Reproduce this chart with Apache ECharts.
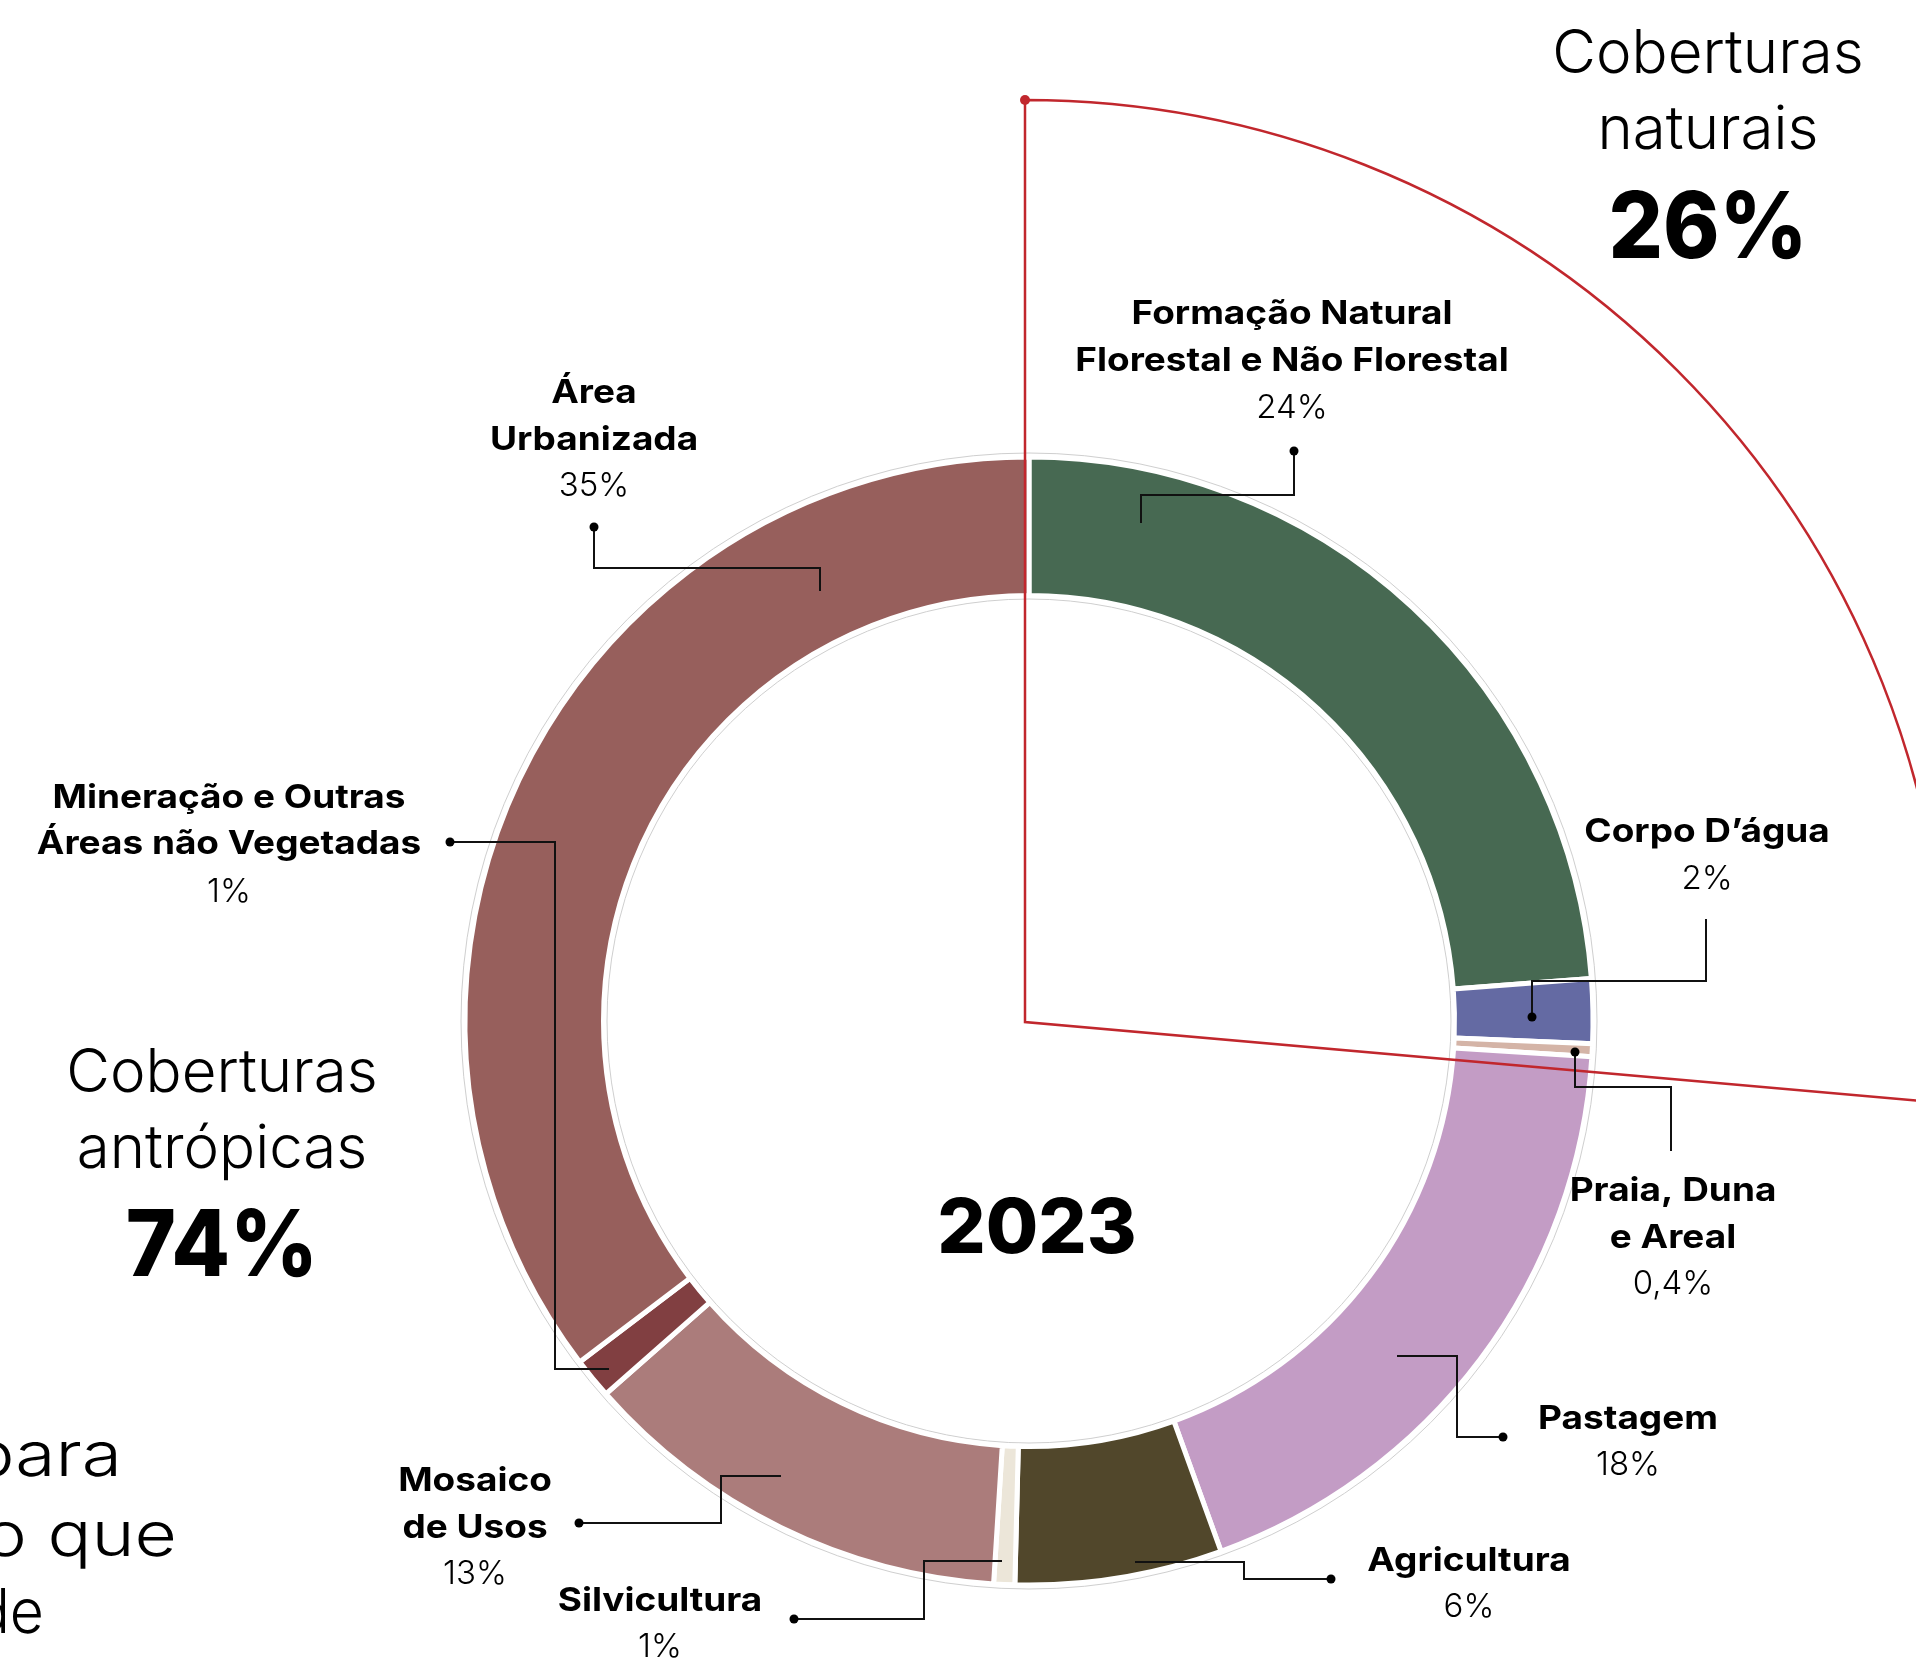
<!DOCTYPE html>
<html>
<head>
<meta charset="utf-8">
<script src="https://cdn.jsdelivr.net/npm/echarts@6/dist/echarts.min.js"></script>
<style>
html,body{margin:0;padding:0;background:#fff;}
#chart{width:1916px;height:1659px;}
</style>
</head>
<body>
<div id="chart"></div>
<script>
// ---------- DATA ----------
const categories = [
  'Formação Natural\nFlorestal e Não Florestal',
  'Corpo D’água',
  'Praia, Duna\ne Areal',
  'Pastagem',
  'Agricultura',
  'Silvicultura',
  'Mosaico\nde Usos',
  'Mineração e Outras\nÁreas não Vegetadas',
  'Área\nUrbanizada'
];
const values = [23.8, 1.84, 0.37, 18.46, 5.93, 0.6, 12.5, 1.17, 35.33];
const pctLabels = ['24%', '2%', '0,4%', '18%', '6%', '1%', '13%', '1%', '35%'];
const groupNames = ['Coberturas\nnaturais', 'Coberturas\nantrópicas'];
const groupShares = [26.4, 73.6];
const groupLabels = ['26%', '74%'];
const yearLabel = '2023';
const introLines = ['para', 'o que', 'de'];

// ---------- STYLE / LAYOUT ----------
const colors = ['#476952', '#646aa3', '#d4b4a7', '#c39cc5', '#51472b', '#ece6d9', '#ab7c7b', '#813f41', '#975f5c'];
const FONT = 'Inter, "Open Sans", sans-serif';
const ring = {cx: 1029, cy: 1021, r0: 425.5, r: 564, g0: 422, g: 568};
const redSector = {cx: 1025, cy: 1022, r: 922};
const labelLayout = [
  {x: 1292, ys: [314, 361, 408], pts: [[1294,451],[1294,495],[1141,495],[1141,523]], dot: 0},
  {x: 1707, ys: [832, 879], pts: [[1706,919],[1706,981],[1532,981],[1532,1017]], dot: 3},
  {x: 1673, ys: [1191, 1238, 1284], pts: [[1671,1151],[1671,1087],[1575,1087],[1575,1052]], dot: 3},
  {x: 1628, ys: [1419, 1465], pts: [[1503,1437],[1457,1437],[1457,1356],[1397,1356]], dot: 0},
  {x: 1469, ys: [1561, 1607], pts: [[1331,1579],[1244,1579],[1244,1562],[1135,1562]], dot: 0},
  {x: 660, ys: [1601, 1647], pts: [[794,1619],[924,1619],[924,1561],[1002,1561]], dot: 0},
  {x: 475, ys: [1481, 1528, 1574], pts: [[579,1523],[721,1523],[721,1476],[781,1476]], dot: 0},
  {x: 229, ys: [798, 844, 892], pts: [[450,842],[555,842],[555,1369],[609,1369]], dot: 0},
  {x: 594, ys: [393, 440, 486], pts: [[594,527],[594,568],[820,568],[820,591]], dot: 0}
];
const groupLayout = [
  {x: 1708, ys: [55, 131], pctY: 230},
  {x: 222, ys: [1074, 1150], pctY: 1248}
];
const introLayout = [{x: 122, y: 1457, sx: 1.18}, {x: 177, y: 1537, sx: 1.18}, {x: 44, y: 1614, sx: 0.95}];

// ---------- BUILD ----------
const chart = echarts.init(document.getElementById('chart'), null, {renderer: 'canvas'});
const elements = [];

function txt(text, x, y, font, align, sx) {
  elements.push({
    type: 'text', x: x, y: y, z: 100, silent: true, scaleX: sx || 1,
    style: {text: text, font: font, fill: '#000', textAlign: align || 'center', textVerticalAlign: 'middle',
            align: align || 'center', verticalAlign: 'middle'}
  });
}

// red "natural" sector
const naturalAngle = groupShares[0] / (groupShares[0] + groupShares[1]) * Math.PI * 2;
elements.push({
  type: 'sector', z: 50, silent: true,
  shape: {cx: redSector.cx, cy: redSector.cy, r0: 0, r: redSector.r,
          startAngle: -Math.PI / 2, endAngle: -Math.PI / 2 + naturalAngle, clockwise: true},
  style: {fill: 'none', stroke: '#c1272d', lineWidth: 2.5}
});
[-Math.PI / 2, -Math.PI / 2 + naturalAngle].forEach(a => {
  elements.push({type: 'circle', z: 51, silent: true,
    shape: {cx: redSector.cx + redSector.r * Math.cos(a), cy: redSector.cy + redSector.r * Math.sin(a), r: 5},
    style: {fill: '#c1272d'}});
});

// leader lines and labels
categories.forEach((name, i) => {
  const L = labelLayout[i];
  elements.push({type: 'polyline', z: 90, silent: true, shape: {points: L.pts},
    style: {stroke: '#111', lineWidth: 2, fill: null}});
  const d = L.pts[L.dot];
  elements.push({type: 'circle', z: 91, silent: true, shape: {cx: d[0], cy: d[1], r: 4.5}, style: {fill: '#000'}});
  const lines = name.split('\n');
  lines.forEach((ln, k) => txt(ln, L.x, L.ys[k], '700 33px ' + FONT, 'center', 1.12));
  txt(pctLabels[i], L.x, L.ys[lines.length], '300 33px ' + FONT);
});

// group titles
groupNames.forEach((g, i) => {
  const G = groupLayout[i];
  g.split('\n').forEach((ln, k) => txt(ln, G.x, G.ys[k], '300 60px ' + FONT));
  txt(groupLabels[i], G.x, G.pctY, '800 92px ' + FONT, 'center', 0.93);
});

// year in centre
txt(yearLabel, 1037, 1230, '800 76px ' + FONT);

// intro text clipped at left edge
introLines.forEach((t, i) => txt(t, introLayout[i].x, introLayout[i].y, '300 62px ' + FONT, 'right', introLayout[i].sx));

chart.setOption({
  animation: false,
  backgroundColor: '#fff',
  series: [
    {
      type: 'pie', silent: true, z: 1,
      center: [ring.cx, ring.cy], radius: [ring.g0, ring.g],
      label: {show: false}, labelLine: {show: false},
      data: [{value: 1, itemStyle: {color: 'rgba(0,0,0,0)', borderColor: '#cfcfcf', borderWidth: 1}}]
    },
    {
      type: 'pie', silent: true, z: 2,
      center: [ring.cx, ring.cy], radius: [ring.r0, ring.r],
      startAngle: 90, clockwise: true,
      label: {show: false}, labelLine: {show: false},
      itemStyle: {borderColor: '#ffffff', borderWidth: 5},
      data: categories.map((c, i) => ({name: c, value: values[i], itemStyle: {color: colors[i]}}))
    }
  ],
  graphic: {elements: elements}
});
</script>
</body>
</html>
